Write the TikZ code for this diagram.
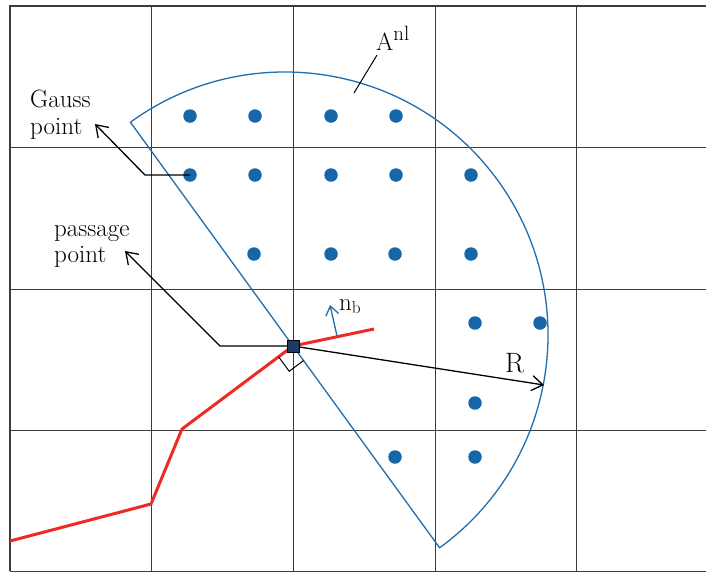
\documentclass[tikz,border=0pt]{standalone}
\usetikzlibrary{arrows.meta}
\definecolor{secblue}{RGB}{31,110,176}
\definecolor{dotblue}{RGB}{22,102,168}
\definecolor{cutred}{RGB}{238,42,36}
\definecolor{navysq}{RGB}{31,56,100}
\definecolor{gridgray}{RGB}{60,60,60}
\begin{document}
\begin{tikzpicture}[x=1pt,y=-1pt,
  gridline/.style={gridgray, line width=1pt},
  leader/.style={black, line width=1.3pt},
  bigbarb/.style={-{Straight Barb[length=11pt,width=15pt,line width=1.3pt]}},
  gp/.style={circle, fill=dotblue, inner sep=0pt, minimum size=13.5pt},
  lbl/.style={font=\fontsize{25}{26.5}\selectfont, inner sep=0pt, align=left},
  biglbl/.style={font=\fontsize{28}{32}\selectfont, inner sep=0pt},
  sector/.style={secblue, line width=1.3pt, line join=miter},
  crack/.style={cutred, line width=3pt, line join=round},
  passq/.style={draw=black, fill=navysq, minimum size=12pt, inner sep=0pt, line width=0.7pt},
]
\useasboundingbox (0,0) rectangle (706,571);
% grid
\foreach \x in {151,293,435,576} \draw[gridline] (\x,6) -- (\x,571);
\foreach \y in {147,289,430,571} \draw[gridline] (10,\y) -- (706,\y);
\draw[gridline, line width=1.8pt] (706,6) -- (10,6) -- (10,571);
% sector
\coordinate (C) at (285,335);
\draw[sector] (C) ++(234:263) arc[start angle=234, end angle=414, radius=263] -- cycle;
% gauss points
\node[gp] (g11) at (190,116) {};
\node[gp] (g12) at (255,116) {};
\node[gp] (g13) at (331,116) {};
\node[gp] (g14) at (396,116) {};
\node[gp] (g21) at (190,175) {};
\node[gp] (g22) at (255,175) {};
\node[gp] (g23) at (331,175) {};
\node[gp] (g24) at (396,175) {};
\node[gp] (g25) at (471,175) {};
\node[gp] (g31) at (254,254) {};
\node[gp] (g32) at (331,254) {};
\node[gp] (g33) at (395,254) {};
\node[gp] (g34) at (471,254) {};
\node[gp] (g41) at (475,323) {};
\node[gp] (g42) at (540,323) {};
\node[gp] (g51) at (475,403) {};
\node[gp] (g61) at (395,457) {};
\node[gp] (g62) at (475,457) {};
% crack path
\coordinate (r0) at (10,541);
\coordinate (r1) at (151,504);
\coordinate (r2) at (182,429);
\coordinate (Pc) at (293,346);
\coordinate (r4) at (374,329);
\draw[crack] (r0) -- (r1) -- (r2) -- (Pc) -- (r4);
% right angle marker
\draw[black, line width=1pt] (278.6,356.8) -- (289.2,371.3) -- (303.6,360.5);
% normal
\coordinate (nb0) at (337,336);
\coordinate (nb1) at (330,305);
\draw[secblue, line width=1.3pt, -{Straight Barb[length=9pt,width=13pt,line width=1.3pt]}] (nb0) -- (nb1);
\node[font=\fontsize{24}{26}\selectfont, inner sep=0pt, anchor=base west] (nblab) at (339,310) {$\mathrm{n}_{\mathrm{b}}$};
% labels
\node[lbl, anchor=north west] (gauss) at (30,90) {Gauss\\point};
\node[lbl, anchor=north west] (pass) at (54,225) {passage\\point};
\coordinate (gtip) at (95,124);
\coordinate (gbend) at (145,175);
\draw[leader, bigbarb] (g21.center) -- (gbend) -- (gtip);
\coordinate (ptip) at (125,251);
\coordinate (pbend) at (220,346);
\draw[leader, bigbarb] (Pc) -- (pbend) -- (ptip);
% radius
\coordinate (Rend) at (544,385);
\draw[leader, bigbarb] (Pc) -- (Rend);
\node[biglbl, anchor=base west] (Rlab) at (505,372) {R};
% A^nl
\node[biglbl, anchor=base west] (Alab) at (376,50) {$\mathrm{A}^{\mathrm{nl}}$};
\coordinate (a0) at (377,55);
\coordinate (a1) at (354,93);
\draw[black, line width=1pt] (a0) -- (a1);
% passage point square
\node[passq] (P) at (Pc) {};
\end{tikzpicture}
\end{document}
